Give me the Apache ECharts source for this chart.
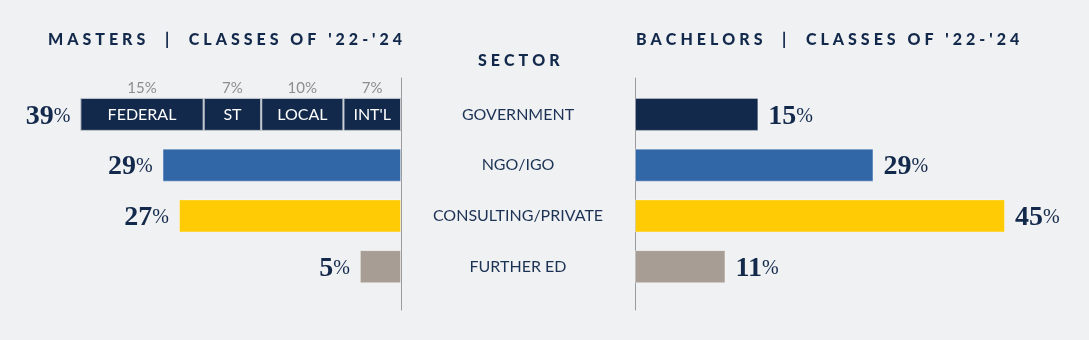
<!DOCTYPE html>
<html><head><meta charset="utf-8">
<style>html,body{margin:0;padding:0;background:#f0f1f3}#c{width:1089px;height:340px}</style>
<script src="https://cdn.jsdelivr.net/npm/echarts@6/dist/echarts.min.js"></script>
</head><body><div id="c"></div>
<script>
const categories = ['GOVERNMENT', 'NGO/IGO', 'CONSULTING/PRIVATE', 'FURTHER ED'];
const govSegmentNames = ['FEDERAL', 'ST', 'LOCAL', "INT'L"];
const govSegmentValues = [15, 7, 10, 7];
const mastersValues = [null, 29, 27, 5]; // government row is built from the segments
const bachelorsValues = [15, 29, 45, 11];
const rowColors = ['#13294b', '#3166a7', '#ffcb05', '#a89d94'];
const titleMasters = "MASTERS  |  CLASSES OF '22-'24";
const titleBachelors = "BACHELORS  |  CLASSES OF '22-'24";
const titleSector = 'SECTOR';

const NAVY = '#13294b';
const SANS = 'Lato';
const SERIF = 'Liberation Serif';
const AX_MAX = 45;
function spaced(s) { return s.split('').join('\u2005'); }

const govTotal = govSegmentValues.reduce((a, b) => a + b, 0);
const valueRich = {
  n: { fontFamily: SERIF, fontWeight: 'bold', fontSize: 28, color: NAVY, lineHeight: 30 },
  p: { fontFamily: SERIF, fontSize: 20, color: NAVY, lineHeight: 30 }
};

const series = [];
for (let i = govSegmentNames.length - 1; i >= 0; i--) {
  series.push({
    type: 'bar', name: govSegmentNames[i], xAxisIndex: 0, yAxisIndex: 0, stack: 'masters', barWidth: 33,
    data: categories.map((c, j) => j === 0 ? govSegmentValues[i] : '-'),
    itemStyle: { color: rowColors[0], borderColor: '#c3c8d0', borderWidth: 1 },
    label: {
      show: true, position: 'inside', offset: [0, -13],
      formatter: p => '{a|' + p.value + '%}\n{b|' + p.seriesName + '}',
      rich: {
        a: { fontFamily: SANS, fontSize: 15, lineHeight: 26, color: '#8d8d8d' },
        b: { fontFamily: SANS, fontSize: 16, lineHeight: 26, color: '#ffffff' }
      }
    },
    silent: true
  });
}
series.push({
  type: 'bar', name: 'masters', xAxisIndex: 0, yAxisIndex: 0, stack: 'masters', barWidth: 33,
  data: categories.map((c, j) => j === 0
    ? { value: 0, itemStyle: { color: 'rgba(0,0,0,0)', borderWidth: 0 } }
    : { value: mastersValues[j], itemStyle: { color: rowColors[j] } }),
  itemStyle: { borderColor: 'rgba(255,255,255,0.35)', borderWidth: 1 },
  label: {
    show: true, position: 'left', distance: 10, offset: [0, 2],
    formatter: p => '{n|' + (p.dataIndex === 0 ? govTotal : p.value) + '}{p|%}',
    rich: valueRich
  },
  silent: true
});
series.push({
  type: 'bar', name: 'bachelors', xAxisIndex: 1, yAxisIndex: 1, barWidth: 33,
  data: bachelorsValues.map((v, j) => ({ value: v, itemStyle: { color: rowColors[j] } })),
  itemStyle: { borderColor: 'rgba(255,255,255,0.35)', borderWidth: 1 },
  label: {
    show: true, position: 'right', distance: 10, offset: [0, 2],
    formatter: p => '{n|' + p.value + '}{p|%}',
    rich: valueRich
  },
  silent: true
});

const hiddenValueAxis = (g, extra) => Object.assign({ gridIndex: g, type: 'value', min: 0, max: AX_MAX, show: false }, extra || {});
const dividerAxis = (g, pos) => ({
  gridIndex: g, type: 'value', position: pos, min: 0, max: 1,
  axisLine: { show: true, onZero: false, lineStyle: { color: '#9b9b9b', width: 1 } },
  axisTick: { show: false }, axisLabel: { show: false }, splitLine: { show: false }
});
const titleStyle = { fontFamily: SANS, fontWeight: 900, fontSize: 16, color: NAVY };

const option = {
  backgroundColor: '#f0f1f3',
  animation: false,
  title: [
    { text: spaced(titleMasters), left: 48, top: 32, padding: 0, textStyle: titleStyle },
    { text: spaced(titleBachelors), left: 636, top: 32, padding: 0, textStyle: titleStyle },
    { text: spaced(titleSector), left: 478, top: 53, padding: 0, textStyle: titleStyle }
  ],
  grid: [
    { left: 31, width: 370, top: 89, height: 203 },
    { left: 635, width: 370, top: 89, height: 203 },
    { left: 31, width: 370, top: 78, height: 232 },
    { left: 635, width: 370, top: 78, height: 232 }
  ],
  xAxis: [
    hiddenValueAxis(0, { inverse: true }),
    hiddenValueAxis(1),
    hiddenValueAxis(2),
    hiddenValueAxis(3)
  ],
  yAxis: [
    { gridIndex: 0, type: 'category', data: categories, inverse: true, show: false },
    {
      gridIndex: 1, type: 'category', data: categories, inverse: true,
      axisLine: { show: false }, axisTick: { show: false },
      axisLabel: { interval: 0, margin: 117, align: 'center', fontFamily: SANS, fontSize: 16, color: '#1c3254' }
    },
    dividerAxis(2, 'right'),
    dividerAxis(3, 'left')
  ],
  series: series
};
echarts.init(document.getElementById('c'), null, { renderer: 'canvas' }).setOption(option);
</script></body></html>
